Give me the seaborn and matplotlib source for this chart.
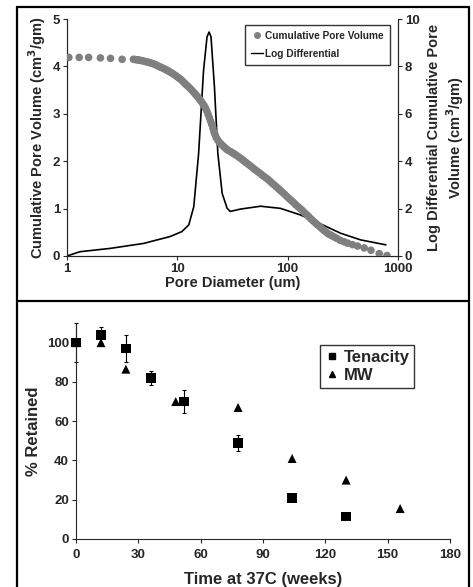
import matplotlib
matplotlib.use('Agg')
import matplotlib.pyplot as plt
from matplotlib.lines import Line2D
import numpy as np
import pandas as pd
import seaborn as sns

# ---------------------------------------------------------------
# Данные (считаны с исходного рисунка)
# ---------------------------------------------------------------
pore_diam = [1.04, 1.29, 1.57, 2.01, 2.48, 3.16,
             4.0, 4.15, 4.3, 4.45, 4.6, 4.8, 5.0, 5.2, 5.4, 5.6, 5.8, 6.05, 6.3,
             6.55, 6.8, 7.05, 7.3, 7.6, 7.9, 8.2, 8.5, 8.85, 9.2, 9.6, 10.0,
             10.4, 10.8, 11.2, 11.6, 12.0, 12.5, 13.0, 13.5, 14.0, 14.5, 15.0,
             15.5, 16.0, 16.5, 17.0, 17.5, 18.0, 18.5, 19.0, 19.5, 20.0, 20.5,
             21.0, 21.5, 22.0, 22.5, 23.2, 24, 25, 26, 27, 28, 29.2, 30.5, 31.7,
             33, 34.5, 36, 37.5, 39, 40.5, 42, 44, 46, 48, 50, 52.5, 55, 57.5,
             60, 63, 66, 69, 72, 75.5, 79, 82.5, 86, 90, 94, 98.5, 103, 108, 113,
             118, 124, 130, 136, 142, 149, 156, 163, 170, 178, 186, 195, 204,
             213, 223, 233, 244, 255, 267, 280, 300,
             325, 350, 387, 430, 494, 569, 676, 795]
cum_volume = [4.19, 4.19, 4.19, 4.18, 4.17, 4.15,
              4.15, 4.145, 4.14, 4.135, 4.13, 4.12, 4.11, 4.10, 4.09, 4.08, 4.07,
              4.055, 4.04, 4.02, 4.00, 3.985, 3.97, 3.95, 3.93, 3.91, 3.89, 3.865,
              3.84, 3.81, 3.78, 3.75, 3.72, 3.685, 3.65, 3.615, 3.58, 3.54, 3.50,
              3.46, 3.42, 3.38, 3.34, 3.30, 3.26, 3.215, 3.17, 3.12, 3.06, 2.99,
              2.92, 2.85, 2.78, 2.70, 2.62, 2.56, 2.50, 2.45, 2.40, 2.36, 2.32,
              2.285, 2.25, 2.225, 2.20, 2.175, 2.15, 2.12, 2.09, 2.06, 2.03, 2.00,
              1.97, 1.935, 1.90, 1.865, 1.83, 1.795, 1.76, 1.725, 1.69, 1.655,
              1.62, 1.58, 1.54, 1.50, 1.46, 1.42, 1.38, 1.34, 1.30, 1.255, 1.21,
              1.17, 1.13, 1.085, 1.04, 1.00, 0.96, 0.915, 0.87, 0.825, 0.78, 0.74,
              0.70, 0.66, 0.62, 0.58, 0.54, 0.505, 0.47, 0.445, 0.42, 0.395, 0.37,
              0.33,
              0.30, 0.27, 0.24, 0.21, 0.17, 0.12, 0.05, 0.01]

logdiff_diam = [1.0, 1.31, 2.46, 4.94, 8.6, 11.0, 12.7, 14.1, 15.6, 17.3, 18.6,
                19.4, 20.2, 21.7, 23.3, 25.5, 28.3, 30.2, 37.4, 56.9, 86, 131,
                200, 302, 458, 777]
logdiff_vol = [0.0, 0.18, 0.32, 0.53, 0.82, 1.03, 1.31, 2.08, 4.33, 7.85, 9.25,
               9.45, 9.25, 7.14, 4.33, 2.64, 2.01, 1.88, 1.98, 2.10, 2.01, 1.73,
               1.35, 0.96, 0.68, 0.47]

ten_weeks = [0, 12, 24, 36, 52, 78, 104, 130]
ten_retained = [100, 104, 97, 82, 70, 49, 21, 11.5]
ten_err = [10, 4, 7, 3.5, 6, 4, 1, 1]

mw_weeks = [0, 12, 24, 48, 78, 104, 130, 156]
mw_retained = [100, 100, 86.5, 70, 67, 41, 30, 15.5]

sns.set_style('ticks')
plt.rcParams['font.family'] = ['Liberation Sans', 'DejaVu Sans']
plt.rcParams['font.weight'] = 'bold'
plt.rcParams['axes.labelweight'] = 'bold'

fig = plt.figure(figsize=(4.73, 5.87), dpi=100)

# ---------------------------------------------------------------
# Верхняя панель: распределение пор
# ---------------------------------------------------------------
ax1 = fig.add_axes([0.1416, 0.5639, 0.6998, 0.4037])
ax2 = ax1.twinx()

cum_df = pd.DataFrame({'d': pore_diam, 'v': cum_volume})
ld_df = pd.DataFrame({'d': logdiff_diam, 'v': logdiff_vol})

sns.scatterplot(data=cum_df, x='d', y='v', ax=ax1, color='#7f7f7f', s=30,
                edgecolor='none', zorder=3, legend=False)
sns.lineplot(data=ld_df, x='d', y='v', ax=ax2, color='black', lw=1.2,
             legend=False, sort=False)

ax1.set_xscale('log')
ax1.set_xlim(1, 1000)
ax1.set_ylim(0, 5)
ax2.set_ylim(0, 10)
ax1.set_xticks([1, 10, 100, 1000])
ax1.set_xticklabels(['1', '10', '100', '1000'])
ax1.xaxis.set_minor_locator(matplotlib.ticker.NullLocator())
ax1.set_yticks(range(0, 6))
ax2.set_yticks(range(0, 11, 2))

ax1.set_xlabel('Pore Diameter (um)', fontsize=10.5, labelpad=1)
ax1.set_ylabel('Cumulative Pore Volume (cm$^3$/gm)', fontsize=10.5, labelpad=3)
ax2.set_ylabel('Log Differential Cumulative Pore\nVolume (cm$^3$/gm)',
               fontsize=10.5, labelpad=5)

for ax in (ax1, ax2):
    ax.tick_params(labelsize=9.5, length=3, width=0.8, pad=2)
    ax.spines['top'].set_visible(False)
    for s in ax.spines.values():
        s.set_linewidth(0.8)
    ax.set_facecolor('none')
    for lab in ax.get_xticklabels() + ax.get_yticklabels():
        lab.set_fontweight('bold')
ax1.set_zorder(ax2.get_zorder() + 1)

handles = [Line2D([], [], marker='o', ls='none', color='#7f7f7f', markersize=4),
           Line2D([], [], color='black', lw=1.0)]
leg = ax1.legend(handles, ['Cumulative Pore Volume', 'Log Differential'],
                 loc='upper right', bbox_to_anchor=(0.99, 0.995), fontsize=7.3,
                 frameon=True, fancybox=False, handlelength=1.2,
                 handletextpad=0.25, borderpad=0.55, labelspacing=0.8)
leg.get_frame().set_edgecolor('black')
leg.get_frame().set_linewidth(1.0)

# ---------------------------------------------------------------
# Нижняя панель: деградация
# ---------------------------------------------------------------
ax3 = fig.add_axes([0.1607, 0.0818, 0.7907, 0.3679])
ax3.errorbar(ten_weeks, ten_retained, yerr=ten_err, fmt='none', ecolor='black',
             elinewidth=0.8, capsize=1.5, capthick=0.8, clip_on=False)
sns.scatterplot(x=mw_weeks, y=mw_retained, ax=ax3, marker='^', color='black',
                s=42, edgecolor='none', zorder=3, clip_on=False)
sns.scatterplot(x=ten_weeks, y=ten_retained, ax=ax3, marker='s', color='black',
                s=48, edgecolor='none', zorder=4, clip_on=False)

ax3.set_xlim(0, 180)
ax3.set_ylim(0, 110)
ax3.set_xticks(range(0, 181, 30))
ax3.set_yticks(range(0, 101, 20))
ax3.tick_params(labelsize=9.5, length=3, width=0.8, pad=2)
ax3.tick_params(axis='x', pad=4)
for lab in ax3.get_xticklabels() + ax3.get_yticklabels():
    lab.set_fontweight('bold')
ax3.set_xlabel('Time at 37C (weeks)', fontsize=12, labelpad=8)
ax3.set_ylabel('% Retained', fontsize=12, labelpad=4)
sns.despine(ax=ax3)
for s in ax3.spines.values():
    s.set_linewidth(0.8)

h2 = [Line2D([], [], marker='s', ls='none', color='black', markersize=5),
      Line2D([], [], marker='^', ls='none', color='black', markersize=5)]
leg2 = ax3.legend(h2, ['Tenacity', 'MW'], loc='upper right',
                  bbox_to_anchor=(0.905, 0.9), borderaxespad=0, fontsize=12,
                  frameon=True, fancybox=False, handlelength=0.8,
                  handletextpad=0.3, borderpad=0.3, labelspacing=0.2)
leg2.get_frame().set_edgecolor('black')
leg2.get_frame().set_linewidth(1.0)

# ---------------------------------------------------------------
# Рамка вокруг панелей
# ---------------------------------------------------------------
x_l, x_r = 16.5 / 473, 469 / 473
y_t, y_mid = 1 - 7 / 587, 1 - 301 / 587
for xs, ys in [([x_l, x_l], [0, y_t]), ([x_r, x_r], [0, y_t]),
               ([x_l, x_r], [y_t, y_t]), ([x_l, x_r], [y_mid, y_mid])]:
    fig.add_artist(Line2D(xs, ys, color='black', lw=1.6,
                          transform=fig.transFigure))

plt.savefig('out.png', dpi=100)
plt.close()
